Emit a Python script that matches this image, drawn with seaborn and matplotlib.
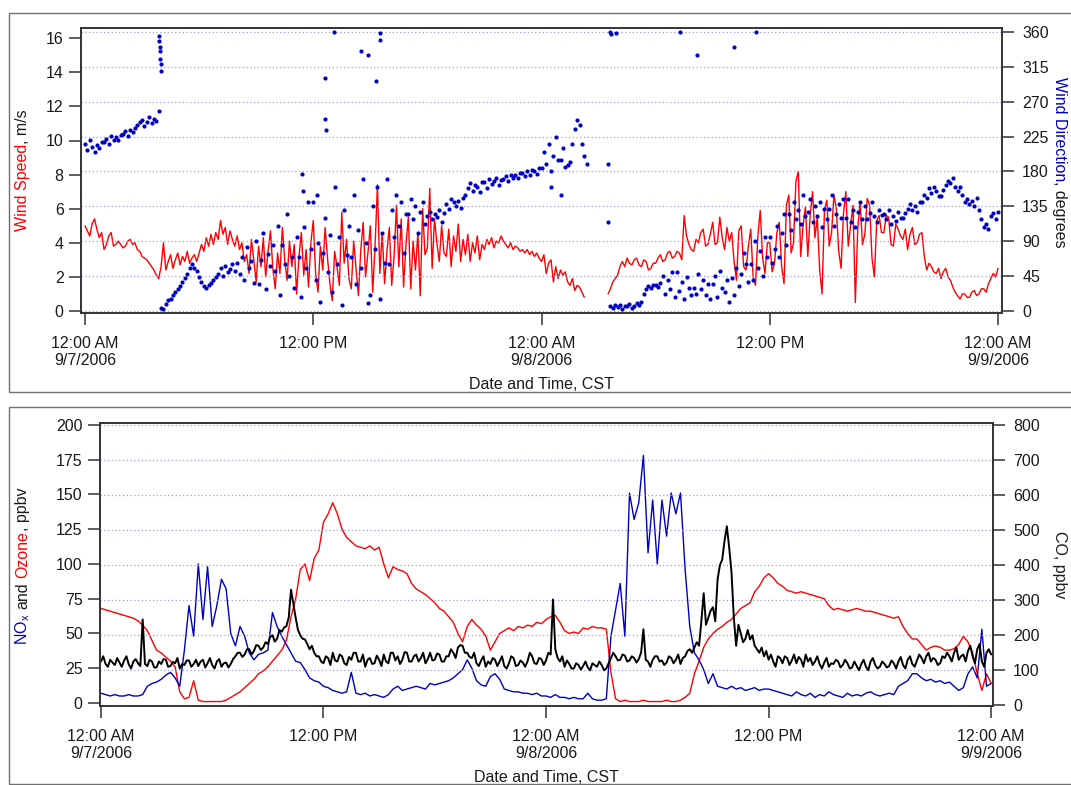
import numpy as np
import pandas as pd
import matplotlib
matplotlib.use("Agg")
import matplotlib.pyplot as plt
import matplotlib.transforms as mtransforms
from matplotlib.patches import Rectangle
import seaborn as sns

nan = np.nan

# ---------------- data ----------------
x_ticks = [0, 12, 24, 36, 48]
x_tick_labels = ["12:00 AM\n9/7/2006", "12:00 PM", "12:00 AM\n9/8/2006",
                 "12:00 PM", "12:00 AM\n9/9/2006"]

# wind speed, m/s (7.5-min readings, one row per hour)
wind_speed = [
    5.0, 4.7, 4.4, 5.1, 5.4, 4.8, 4.3, 4.6,
    3.6, 3.9, 4.4, 4.6, 3.8, 3.9, 4.1, 3.9,
    3.7, 3.8, 4.1, 4.2, 3.9, 4.0, 3.6, 3.5,
    3.2, 3.1, 3.0, 2.8, 2.6, 2.4, 2.1, 1.9,
    2.6, 4.0, 2.4, 2.9, 3.3, 2.5, 3.0, 3.4,
    2.7, 3.2, 2.9, 3.5, 2.8, 3.1, 3.3, 2.9,
    3.4, 3.9, 3.5, 4.3, 3.8, 4.5, 3.9, 4.6,
    4.2, 5.3, 4.5, 4.9, 3.9, 4.7, 4.2, 3.8,
    4.4, 3.6, 4.0, 2.9, 3.3, 2.2, 4.2, 3.0,
    1.7, 3.8, 2.6, 4.3, 2.0, 3.5, 4.7, 2.5,
    1.3, 3.4, 2.2, 4.9, 3.0, 1.8, 4.1, 2.6,
    3.9, 1.0, 3.2, 4.6, 2.1, 3.6, 1.4, 4.0,
    5.3, 2.2, 1.1, 3.8, 2.4, 4.9, 3.1, 1.6,
    0.6, 3.5, 2.6, 1.5, 5.8, 2.8, 4.2, 1.9,
    1.3, 4.1, 2.5, 0.9, 3.6, 5.2, 2.0, 3.4,
    5.0, 1.1, 3.8, 7.4, 2.2, 4.6, 1.6, 3.5,
    4.9, 1.5, 3.2, 6.2, 2.6, 5.4, 1.4, 3.9,
    5.5, 1.3, 4.1, 2.4, 4.6, 0.9, 6.0, 3.3,
    3.7, 7.2, 2.5, 5.4, 4.0, 2.9, 5.0, 3.4,
    3.2, 4.8, 2.6, 4.4, 3.5, 5.1, 2.9, 4.2,
    3.3, 4.5, 2.9, 4.0, 3.4, 4.4, 3.0, 3.9,
    3.6, 4.2, 3.9, 4.3, 3.7, 4.1, 4.0, 4.4,
    4.1, 3.9, 3.7, 4.0, 3.6, 3.8, 3.7, 3.5,
    3.6, 3.4, 3.6, 3.3, 3.5, 3.2, 3.4, 3.1,
    2.9, 3.3, 2.2, 2.8, 3.0, 1.7, 2.6, 1.9,
    2.4, 2.1, 2.3, 1.7, 1.5, 1.9, 1.2, 1.5,
    1.4, 1.1, 0.8, nan, nan, nan, nan, nan,
    nan, nan, nan, nan, 1.0, 1.3, 1.7, 1.9,
    2.1, 2.6, 2.9, 2.6, 3.1, 2.8, 2.7, 3.0,
    3.1, 2.7, 2.6, 3.0, 2.9, 2.4, 2.5, 2.8,
    2.8, 3.1, 3.3, 2.9, 3.0, 3.4, 3.5, 3.1,
    3.2, 3.5, 3.4, 3.0, 5.6, 4.4, 3.9, 3.6,
    3.5, 4.2, 4.0, 4.6, 4.8, 3.8, 3.9, 4.5,
    5.2, 3.9, 4.0, 5.5, 4.3, 3.6, 4.9, 4.1,
    4.6, 2.9, 1.8, 4.7, 5.0, 2.6, 2.4, 3.8,
    4.8, 2.0, 1.5, 4.4, 5.9, 3.1, 2.2, 4.0,
    4.0, 2.3, 2.8, 4.6, 5.2, 2.6, 1.6, 6.2,
    6.8, 3.4, 4.0, 7.6, 8.2, 3.2, 5.0, 6.1,
    3.2, 5.6, 7.0, 4.3, 5.5, 2.4, 1.0, 5.9,
    6.5, 3.8, 4.6, 6.8, 6.0, 3.5, 2.5, 5.7,
    7.0, 3.8, 5.0, 6.2, 0.5, 4.8, 6.4, 3.9,
    4.5, 6.6, 6.2, 3.1, 2.0, 5.3, 5.6, 4.6,
    4.6, 5.6, 5.5, 3.9, 3.8, 5.1, 4.8, 4.4,
    4.2, 4.8, 3.6, 4.5, 4.9, 3.9, 4.0, 4.5,
    4.6, 3.2, 2.4, 2.8, 2.6, 2.3, 2.2, 2.5,
    1.9, 2.3, 2.5, 2.0, 1.8, 1.4, 1.1, 0.9,
    0.7, 1.0, 1.0, 0.8, 0.8, 1.1, 1.2, 0.9,
    1.0, 1.3, 1.3, 1.1, 1.6, 1.9, 2.2, 2.0,
    2.5]

# wind direction, degrees (7.5-min readings, one row per hour)
wind_dir = [
    215, 208, 220, 212, 205, 214, 210, 218,
    218, 222, 216, 226, 220, 224, 221, 227,
    228, 232, 226, 234, 231, 236, 240, 244,
    246, 238, 244, 250, 242, 248, 245, 258,
    4, 2, 9, 14, 16, 20, 24, 28,
    32, 38, 42, 48, 55, 60, 56, 52,
    44, 38, 32, 30, 34, 36, 40, 44,
    48, 55, 45, 58, 50, 54, 60, 52,
    62, 48, 70, 40, 82, 55, 64, 36,
    90, 35, 66, 100, 28, 74, 58, 85,
    52, 110, 20, 85, 60, 125, 45, 70,
    30, 95, 70, 18, 108, 55, 140, 80,
    140, 40, 88, 12, 75, 120, 50, 98,
    25, 160, 60, 95, 8, 130, 72, 110,
    70, 150, 35, 105, 55, 170, 88, 10,
    20, 135, 80, 160, 15, 100, 62, 170,
    60, 130, 95, 150, 110, 140, 75, 125,
    125, 145, 118, 135, 100, 128, 140, 112,
    122, 128, 118, 125, 121, 130, 115, 126,
    138, 132, 145, 140, 136, 142, 133, 146,
    150, 158, 165, 155, 162, 160, 153, 166,
    166, 158, 170, 164, 168, 172, 162, 169,
    170, 174, 168, 176, 172, 175, 171, 178,
    178, 174, 180, 176, 182, 180, 177, 184,
    185, 205, 190, 215, 180, 200, 225, 195,
    195, 210, 186, 188, 192, 215, 235, 246,
    240, 215, 200, 190, nan, nan, nan, nan,
    nan, nan, nan, nan, 190, 6, 4, 8,
    5, 8, 3, 7, 6, 9, 4, 7,
    10, 8, 12, 22, 28, 32, 30, 33,
    34, 31, 36, 45, 22, 40, 28, 50,
    18, 50, 26, 38, 15, 44, 30, 20,
    30, 22, 48, 28, 40, 20, 35, 15,
    35, 45, 18, 52, 30, 25, 40, 12,
    42, 20, 55, 32, 48, 75, 60, 38,
    60, 40, 90, 55, 78, 45, 95, 70,
    95, 62, 80, 110, 70, 100, 125, 85,
    125, 105, 140, 118, 130, 112, 150, 122,
    128, 145, 115, 135, 122, 140, 108, 132,
    118, 132, 150, 110, 125, 138, 120, 145,
    120, 145, 115, 130, 108, 128, 140, 118,
    135, 118, 126, 140, 122, 115, 130, 124,
    125, 118, 130, 112, 122, 116, 128, 120,
    120, 126, 132, 138, 130, 136, 128, 140,
    140, 150, 146, 158, 152, 160, 155, 148,
    148, 156, 162, 168, 165, 172, 160, 155,
    160, 150, 140, 145, 138, 142, 136, 146,
    130, 118, 108, 112, 106, 122, 126, 118,
    128]

# isolated wind-direction readings
wd_extra_hours = [3.88, 3.9, 3.92, 3.93, 3.95, 3.97, 3.98, 11.4, 11.45, 12.2,
                  12.6, 12.62, 12.65, 13.1, 14.5, 14.9, 15.3, 15.5, 15.52,
                  24.5, 25.0, 27.5, 27.6, 27.65, 27.9, 31.3, 32.2, 34.1, 35.3]
wd_extra_deg = [355, 348, 340, 335, 325, 318, 310, 177, 155, 150,
                300, 247, 233, 360, 335, 330, 297, 358, 350,
                160, 150, 115, 360, 357, 358, 360, 330, 340, 360]

# NOx, ppbv (15-min)
nox = [
    7, 6, 5, 6,   5, 5, 6, 5,   5, 6, 12, 14,   15, 17, 20, 22,
    18, 12, 38, 70,   48, 100, 60, 98,   55, 70, 89, 82,   50, 41, 55, 48,
    36, 31, 35, 36,   38, 65, 55, 48,   42, 36, 30, 29,   24, 18, 16, 15,
    12, 11, 9, 8,   7, 8, 22, 7,   6, 7, 5, 6,   5, 4, 6, 10,
    12, 9, 10, 11,   12, 11, 10, 14,   13, 14, 15, 16,   18, 21, 24, 31,
    25, 16, 13, 12,   19, 21, 17, 10,   9, 8, 8, 7,   7, 6, 7, 5,
    5, 4, 6, 4,   4, 3, 4, 3,   3, 7, 3, 2,   2, 3, 48, 67,
    86, 48, 151, 132,   144, 178, 108, 146,   100, 146, 120, 151,   136, 151, 96, 55,
    36, 31, 24, 14,   21, 12, 11, 10,   12, 10, 11, 9,   10, 11, 9, 10,
    10, 9, 8, 7,   6, 5, 8, 6,   5, 7, 4, 6,   5, 8, 6, 5,
    4, 7, 5, 6,   5, 7, 8, 6,   5, 6, 7, 6,   12, 14, 16, 21,
    21, 18, 16, 17,   15, 16, 14, 15,   12, 9, 11, 21,   26, 18, 53, 12,
    14]

# Ozone, ppbv (15-min)
ozone = [
    68, 67, 66, 65,   64, 63, 62, 61,   59, 56, 52, 45,   38, 36, 33, 30,
    26, 8, 3, 4,   16, 2, 1, 1,   1, 1, 1, 2,   4, 6, 8, 11,
    14, 17, 21, 23,   26, 30, 34, 38,   45, 62, 75, 96,   100, 88, 104, 110,
    130, 136, 144, 136,   125, 119, 116, 113,   112, 111, 113, 110,   112, 100, 90, 98,
    96, 95, 93, 86,   82, 80, 78, 75,   72, 68, 66, 62,   58, 50, 44, 55,
    60, 56, 53, 48,   38, 44, 50, 52,   54, 52, 55, 54,   56, 55, 58, 57,
    60, 62, 63, 58,   52, 50, 51, 50,   54, 53, 55, 54,   54, 53, 22, 3,
    1, 2, 1, 1,   1, 2, 1, 1,   1, 1, 2, 1,   1, 2, 4, 7,
    21, 30, 40, 46,   50, 53, 55, 58,   60, 64, 68, 70,   72, 80, 84, 90,
    93, 90, 86, 84,   81, 80, 79, 80,   79, 78, 77, 76,   75, 70, 67, 68,
    67, 66, 67, 68,   67, 66, 66, 65,   64, 63, 62, 61,   62, 55, 50, 46,
    46, 42, 38, 40,   41, 40, 38, 38,   39, 42, 48, 44,   36, 21, 9, 21,
    14]

# CO, ppbv (7.5-min readings, one row per hour)
co = [
    125, 140, 118, 110, 130, 122, 115, 135,
    122, 110, 128, 140, 117, 105, 125, 132,
    120, 112, 245, 118, 112, 130, 125, 108,
    108, 125, 118, 132, 130, 110, 112, 124,
    120, 135, 105, 118, 115, 128, 128, 110,
    118, 130, 112, 125, 130, 108, 120, 135,
    115, 105, 125, 132, 110, 120, 122, 108,
    118, 132, 140, 150, 150, 138, 145, 160,
    160, 145, 155, 172, 170, 158, 165, 180,
    175, 195, 200, 182, 190, 215, 210, 222,
    226, 250, 330, 290, 250, 215, 200, 190,
    188, 175, 160, 170, 150, 140, 140, 125,
    120, 140, 135, 115, 150, 128, 125, 145,
    140, 120, 115, 138, 130, 150, 150, 125,
    125, 145, 110, 130, 135, 118, 120, 142,
    130, 112, 145, 125, 120, 150, 150, 128,
    140, 118, 130, 152, 150, 125, 125, 140,
    145, 125, 135, 150, 120, 132, 150, 128,
    130, 148, 145, 125, 125, 140, 140, 160,
    150, 135, 165, 172, 170, 150, 150, 138,
    135, 150, 120, 112, 128, 140, 110, 125,
    118, 135, 130, 112, 125, 140, 112, 105,
    120, 140, 135, 112, 115, 128, 122, 110,
    125, 150, 140, 120, 118, 135, 132, 115,
    128, 150, 145, 302, 160, 135, 125, 140,
    110, 128, 118, 105, 105, 120, 115, 102,
    112, 125, 108, 100, 120, 115, 110, 125,
    115, 100, 105, 120, 135, 150, 140, 128,
    130, 145, 142, 125, 128, 140, 135, 122,
    132, 150, 217, 130, 125, 110, 130, 140,
    140, 125, 128, 115, 122, 140, 135, 120,
    130, 145, 118, 135, 140, 155, 160, 150,
    165, 180, 170, 240, 320, 230, 250, 270,
    280, 240, 360, 400, 416, 470, 511, 450,
    380, 250, 170, 230, 205, 180, 190, 215,
    188, 200, 170, 160, 150, 165, 140, 155,
    130, 145, 125, 110, 140, 135, 120, 140,
    135, 115, 128, 145, 120, 138, 130, 110,
    145, 125, 135, 115, 125, 140, 118, 105,
    122, 135, 110, 120, 118, 130, 125, 108,
    115, 130, 120, 105, 108, 125, 112, 100,
    118, 130, 110, 100, 125, 135, 115, 105,
    110, 125, 118, 108, 112, 128, 120, 105,
    125, 138, 115, 105, 130, 140, 118, 110,
    128, 145, 135, 120, 140, 150, 125, 135,
    130, 115, 120, 140, 135, 150, 140, 125,
    150, 165, 130, 140, 145, 125, 155, 170,
    140, 120, 160, 175, 125, 110, 150, 160,
    145]

# ---------------- data frames ----------------
ws = np.array(wind_speed, dtype=float)
df_ws = pd.DataFrame({"hour": np.linspace(0, 48, len(ws)), "val": ws,
                      "seg": np.cumsum(np.isnan(ws))}).dropna()
wd = np.array(wind_dir, dtype=float)
df_wd = pd.DataFrame({"hour": np.concatenate([np.linspace(0, 48, len(wd)), wd_extra_hours]),
                      "deg": np.concatenate([wd, np.array(wd_extra_deg, float)])}).dropna()
df_chem = pd.DataFrame({"hour": np.linspace(0, 48, len(nox)), "nox": nox, "ozone": ozone})
df_co = pd.DataFrame({"hour": np.linspace(0, 48, len(co)), "co": co})

# ---------------- style ----------------
sns.set_style("ticks")
plt.rcParams["font.family"] = ["Liberation Sans", "DejaVu Sans"]
plt.rcParams["mathtext.fontset"] = "custom"
plt.rcParams["mathtext.rm"] = "Liberation Sans"
plt.rcParams["mathtext.it"] = "Liberation Sans:italic"
plt.rcParams["mathtext.default"] = "regular"

RED = "#ff0000"
BLUE = "#0000c0"
TXT = "#1a1a1a"
FS = 11.5
W, H = 1071, 785

fig = plt.figure(figsize=(W / 100, H / 100), dpi=100)
ident = mtransforms.IdentityTransform()

# panel boxes
for (x0, y0, w, h) in [(9, H - 392, 1100, 379), (9, 1, 1100, 377)]:
    fig.patches.append(Rectangle((x0, y0), w, h, transform=ident, fill=False,
                                 edgecolor="#707070", linewidth=1.0))

ax1 = fig.add_axes([81 / W, 1 - 313 / H, 921 / W, 285 / H])
ax2 = ax1.twinx()
ax3 = fig.add_axes([100 / W, 1 - 706 / H, 893 / W, 283 / H])
ax4 = ax3.twinx()

# ---------------- top panel ----------------
sns.lineplot(data=df_ws, x="hour", y="val", units="seg", estimator=None,
             color=RED, linewidth=1.0, ax=ax1)
sns.scatterplot(data=df_wd, x="hour", y="deg", color=BLUE, s=9,
                linewidth=0, ax=ax2)

# ---------------- bottom panel ----------------
sns.lineplot(data=df_chem, x="hour", y="ozone", color=RED, linewidth=1.0, ax=ax3)
sns.lineplot(data=df_chem, x="hour", y="nox", color=BLUE, linewidth=1.0, ax=ax3)
sns.lineplot(data=df_co, x="hour", y="co", color="black", linewidth=1.4, ax=ax4)

# ---------------- axes formatting ----------------
ax1.set_xlim(-0.21, 48.21)
ax1.set_ylim(-0.12, 16.6)
ax1.set_yticks(range(0, 17, 2))
ax2.set_ylim(-2.6, 365)
ax2.set_yticks(range(0, 361, 45))

ax3.set_xlim(-0.05, 48.1)
ax3.set_ylim(-2.2, 201.4)
ax3.set_yticks(range(0, 201, 25))
ax4.set_ylim(-2, 806)
ax4.set_yticks(range(0, 801, 100))

for ax in (ax1, ax3):
    ax.set_xticks(x_ticks)
    ax.set_xticklabels(x_tick_labels)
    ax.set_xlabel("Date and Time, CST", fontsize=FS, color=TXT, labelpad=6)
    ax.set_ylabel("")
for ax in (ax2, ax4):
    ax.set_ylabel("")
    ax.set_xlabel("")

for ax in (ax1, ax2, ax3, ax4):
    for sp in ax.spines.values():
        sp.set_visible(True)
        sp.set_color("#333333")
        sp.set_linewidth(1.2)
    ax.tick_params(axis="both", direction="out", length=8.5, width=1.1,
                   color="#333333", labelsize=FS, labelcolor=TXT)
ax1.tick_params(axis="y", pad=4)
ax2.tick_params(axis="y", pad=6)
ax3.tick_params(axis="y", pad=4)
ax4.tick_params(axis="y", pad=6)
ax1.tick_params(axis="x", pad=8)
ax3.tick_params(axis="x", pad=8)

grid_kw = dict(color="#9a9ae8", linestyle=(0, (1, 2)), linewidth=0.9)
for ax in (ax1, ax3):
    ax.grid(False)
for ax in (ax2, ax4):
    ax.yaxis.grid(True, **grid_kw)
    ax.xaxis.grid(False)
    ax.set_axisbelow(True)

# ---------------- multi-coloured axis titles ----------------
renderer = fig.canvas.get_renderer()


def _len(txt, rot):
    t = fig.text(0, 0, txt, fontsize=FS, rotation=rot, transform=ident)
    bb = t.get_window_extent(renderer=renderer)
    t.remove()
    return bb.height


space_w = _len("n n", 90) - _len("nn", 90)


def stacked_label(pieces, x_base, y_center, rot):
    lens = [_len(p[0], rot) for p in pieces]
    gaps = [space_w if p[2] else 0 for p in pieces]
    total = sum(lens) + sum(gaps)
    if rot == 90:
        y = y_center - total / 2
        for (txt, col, sp), L in zip(pieces, lens):
            if sp:
                y += space_w
            fig.text(x_base, y, txt, fontsize=FS, color=col, rotation=90,
                     rotation_mode="anchor", ha="left", va="baseline",
                     transform=ident)
            y += L
    else:
        y = y_center + total / 2
        for (txt, col, sp), L in zip(pieces, lens):
            if sp:
                y -= space_w
            fig.text(x_base, y, txt, fontsize=FS, color=col, rotation=270,
                     rotation_mode="anchor", ha="left", va="baseline",
                     transform=ident)
            y -= L


stacked_label([("Wind Speed", RED, False), (", m/s", TXT, False)],
              27, H - 170, 90)
stacked_label([("Wind Direction", BLUE, False), (", degrees", TXT, False)],
              1055, H - 162, 270)
stacked_label([("NO$_x$", BLUE, False), ("and", TXT, True),
               ("Ozone", RED, True), (", ppbv", TXT, False)],
              27, H - 566, 90)
stacked_label([("CO, ppbv", TXT, False)], 1055, H - 565, 270)

fig.savefig("out.png", dpi=100)
